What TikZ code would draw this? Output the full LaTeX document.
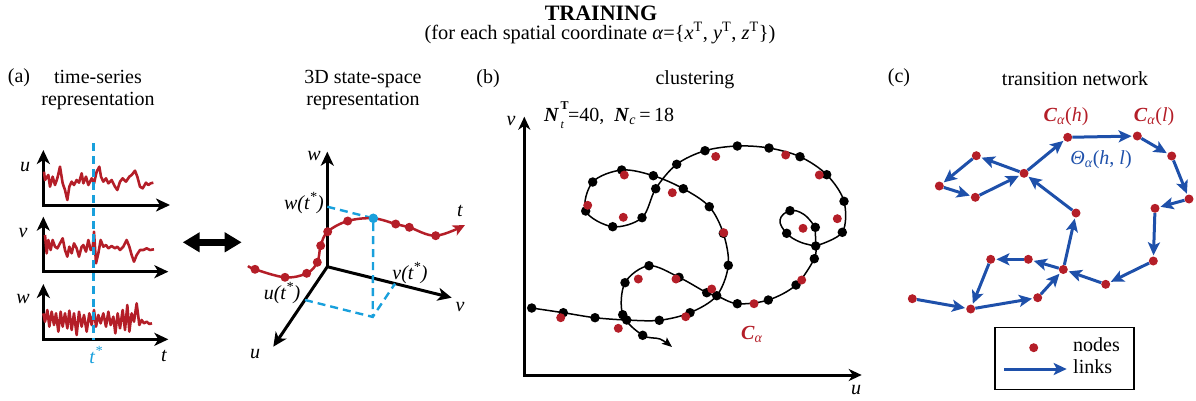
\documentclass[tikz,border=0pt]{standalone}
\usepackage{fontspec}
\setmainfont{Liberation Serif}
\usetikzlibrary{arrows.meta}
\definecolor{rred}{RGB}{180,30,40}
\definecolor{lblue}{RGB}{25,160,220}
\definecolor{nblue}{RGB}{30,80,170}
\tikzset{
 axisline/.style={line width=3pt, line join=miter},
 series/.style={rred, line width=2.6pt, line join=round},
 traj/.style={black, line width=1.5pt},
 bdot/.style={circle, fill=black, inner sep=0pt, minimum size=9.5pt},
 rdot/.style={circle, fill=rred, inner sep=0pt, minimum size=9pt},
 ndot/.style={circle, fill=rred, inner sep=0pt, minimum size=9pt},
 link/.style={nblue, line width=3pt, -{Stealth[length=13pt,width=12pt,inset=3pt]}, shorten >=1pt},
 lab/.style={font=\fontsize{20}{22}\selectfont, inner sep=0pt},
 ilab/.style={font=\fontsize{20}{22}\selectfont\itshape, inner sep=0pt},
 dashblue/.style={lblue, line width=2.4pt, dash pattern=on 8pt off 5pt},
}
\begin{document}
\begin{tikzpicture}[x=1pt,y=-1pt]
\useasboundingbox (0,0) rectangle (1196,400);
% ---------------- title
\node[lab, font=\fontsize{22}{24}\selectfont\bfseries] (title) at (601,13) {TRAINING};
\node[lab, font=\fontsize{20.4}{22}\selectfont] (subtitle) at (600,33) {(for each spatial coordinate \textit{α}=\{\textit{x}\textsuperscript{T}, \textit{y}\textsuperscript{T}, \textit{z}\textsuperscript{T}\})};
% ---------------- panel (a)
\node[lab] (alab) at (19,78) {(a)};
\node[lab, align=center] (atitle) at (98,90) {time-series\\representation};
\begin{scope}[shift={(30,140)}, scale=1/3]
 \draw[axisline, {Stealth[length=14pt,width=13pt,inset=4pt]}-{Stealth[length=14pt,width=13pt,inset=4pt]}] (40,30) -- (40,195) -- (420,195);
 \draw[axisline, {Stealth[length=14pt,width=13pt,inset=4pt]}-{Stealth[length=14pt,width=13pt,inset=4pt]}] (40,230) -- (40,395) -- (415,395);
 \draw[axisline, {Stealth[length=14pt,width=13pt,inset=4pt]}-{Stealth[length=14pt,width=13pt,inset=4pt]}] (40,432) -- (40,598) -- (415,598);
 \draw[series] (42,95) -- (45,120) -- (55,105) -- (60,140) -- (68,110) -- (75,135) -- (82,115) -- (90,80) -- (98,130) -- (105,150) -- (112,180) -- (118,140) -- (125,125) -- (132,135) -- (140,120) -- (147,128) -- (155,100) -- (160,130) -- (168,110) -- (175,135) -- (185,115) -- (192,130) -- (200,95) -- (208,80) -- (213,110) -- (220,125) -- (228,115) -- (235,130) -- (245,120) -- (255,140) -- (262,150) -- (270,125) -- (278,115) -- (288,125) -- (298,110) -- (305,105) -- (315,92) -- (322,110) -- (330,140) -- (338,145) -- (348,128) -- (355,135) -- (362,130) -- (370,128);
 \draw[series] (45,285) -- (50,340) -- (55,300) -- (62,330) -- (68,300) -- (75,320) -- (82,325) -- (90,310) -- (98,295) -- (105,330) -- (112,350) -- (118,320) -- (125,340) -- (132,310) -- (140,325) -- (147,350) -- (155,320) -- (160,315) -- (168,335) -- (175,300) -- (182,330) -- (188,325) -- (192,275) -- (198,370) -- (205,340) -- (212,300) -- (220,320) -- (228,315) -- (235,325) -- (245,318) -- (255,325) -- (262,320) -- (270,330) -- (280,320) -- (290,300) -- (298,320) -- (305,345) -- (312,365) -- (320,345) -- (330,330) -- (340,330) -- (350,325) -- (360,330) -- (372,328);
 \draw[series] (40,520) -- (45,545) -- (52,510) -- (58,560) -- (65,515) -- (72,555) -- (78,520) -- (85,575) -- (92,515) -- (98,560) -- (105,520) -- (112,565) -- (118,512) -- (125,570) -- (132,520) -- (140,585) -- (147,515) -- (155,560) -- (162,525) -- (170,575) -- (178,520) -- (185,555) -- (192,510) -- (198,560) -- (205,525) -- (212,550) -- (220,520) -- (228,560) -- (235,515) -- (242,555) -- (250,530) -- (256,580) -- (263,520) -- (270,565) -- (278,510) -- (285,570) -- (292,495) -- (298,575) -- (305,520) -- (312,545) -- (320,490) -- (328,555) -- (335,540) -- (342,550) -- (350,545) -- (358,552) -- (366,550);
\end{scope}
\coordinate (tstop) at (93.3,143.3);
\coordinate (tsbot) at (93.3,340);
\draw[dashblue] (tstop) -- (tsbot);
\node[ilab] (ulab) at (25,167) {u};
\node[ilab] (vlab) at (23,233) {v};
\node[ilab] (wlab) at (23,299) {w};
\node[ilab, lblue] (tstar) at (96,355) {t\textsuperscript{*}};
\node[ilab] (tlab) at (164,356) {t};
% double arrow
\coordinate (dl) at (182.7,242.3);
\coordinate (dr) at (241.7,242.3);
\draw[line width=7pt, {Triangle[length=17pt,width=19pt]}-{Triangle[length=17pt,width=19pt]}] (dl) -- (dr);
% ---------------- 3D
\node[lab, align=center] (sstitle) at (363,90) {3D state-space\\representation};
\coordinate (O) at (327.3,266.7);
\coordinate (Wt) at (327.3,151.7);
\coordinate (Vt) at (451.7,297.7);
\coordinate (Ut) at (273.3,346.7);
\draw[axisline, -{Stealth[length=14pt,width=13pt,inset=4pt]}] (O) -- (Wt);
\draw[axisline, -{Stealth[length=14pt,width=13pt,inset=4pt]}] (O) -- (Vt);
\draw[axisline, -{Stealth[length=14pt,width=13pt,inset=4pt]}] (O) -- (Ut);
\coordinate (wst) at (327.3,206.7);
\coordinate (ust) at (305,300);
\coordinate (vst) at (395,283.6);
\coordinate (bot) at (372.7,316.9);
\node[circle, fill=lblue, inner sep=0pt, minimum size=9pt] (P) at (373.3,218.3) {};
\draw[dashblue] (wst) -- (P) -- (bot);
\draw[dashblue] (ust) -- (bot) -- (vst);
\draw[rred, line width=2.5pt, -{Stealth[length=12pt,width=11pt,inset=3pt]}] plot[smooth, tension=0.6] coordinates {(248,266) (255,269.3) (285,277.3) (306.7,273.3) (317.3,262.3) (320.7,245.7) (327.7,231.7) (347.7,221) (373.3,218.3) (395.7,224) (409.3,227.3) (435.7,235.7) (465,225)};
\foreach \p [count=\i] in {(255,269.3),(285,277.3),(306.7,273.3),(317.3,262.3),(320.7,245.7),(327.7,231.7),(347.7,221),(395.7,224),(409.3,227.3),(435.7,235.7)}
  \node[rdot] (s\i) at \p {};
\node[circle, fill=lblue, inner sep=0pt, minimum size=9.5pt] (P2) at (373.3,218.3) {};
\node[ilab] (w3) at (314,156) {w};
\node[ilab] (v3) at (460,307) {v};
\node[ilab] (u3) at (255,354) {u};
\node[ilab] (t3) at (460,211) {t};
\node[ilab] (wts) at (304,203) {w(t\textsuperscript{*})};
\node[ilab] (uts) at (282,293) {u(t\textsuperscript{*})};
\node[ilab] (vts) at (410,273) {v(t\textsuperscript{*})};
% ---------------- panel (b)
\node[lab] (blab) at (488,79) {(b)};
\node[lab] (btitle) at (695,80) {clustering};
\coordinate (BO) at (524.3,375);
\coordinate (BV) at (524.3,116.7);
\coordinate (BU) at (861.7,375);
\draw[axisline, {Stealth[length=13pt,width=12pt,inset=4pt]}-{Stealth[length=13pt,width=12pt,inset=4pt]}] (BV) -- (BO) -- (BU);
\node[ilab] (bvl) at (511,121) {v};
\node[ilab] (bul) at (856,390) {u};
\node[lab, anchor=west] (nlab) at (544,115) {\textbf{\textit{N}}\kern1.5pt\rlap{\raisebox{0.62em}{\fontsize{12}{12}\selectfont\bfseries T}}\raisebox{-0.32em}{\fontsize{12}{12}\selectfont\itshape t}\kern4pt=40,\enspace\textbf{\textit{N}}\textsubscript{\textit{c}}\,=\,18};
\draw[traj] plot[smooth, tension=0.55] coordinates {(531.7,308) (563.3,312.7) (595,317.7) (626.7,320) (659.3,320.3) (690,312.7) (716.7,295.7) (728.3,265.3) (723.3,233.3) (709.3,206.7) (683.3,188.7) (653.3,175.7) (621.7,170) (592.7,182) (585.7,211) (612.7,226.7) (642,217.7) (655.7,188.7) (676.7,164.3) (705,150.7) (737.3,146) (769,148) (800,156.7) (826.7,174.7) (844,201.3) (842.3,232.3) (815.7,246)};
\draw[traj] plot[smooth, tension=0.7] coordinates {(815.3,227.3) (804,214.5) (790,210.7) (780,220) (786.7,233.3) (800,242) (815.7,246)};
\draw[traj] (815.7,246) -- (815.3,227.3);
\draw[traj, -{Stealth[length=10pt,width=8pt,inset=2pt]}] plot[smooth, tension=0.55] coordinates {(815.7,246) (814.3,258.7) (796,285) (768.3,300) (737.3,303.7) (716.7,295.7) (706.7,292.7) (679,277.3) (649,265.7) (625,282.7) (622.7,314.7) (642.7,335.3) (660,339) (672,347)};
\foreach \p [count=\i] in {(531.7,308),(563.3,312.7),(595,317.7),(622.7,314.7),(626.7,320),(659.3,320.3),(690,312.7),(716.7,295.7),(728.3,265.3),(723.3,233.3),(709.3,206.7),(683.3,188.7),(653.3,175.7),(621.7,170),(592.7,182),(585.7,211),(612.7,226.7),(642,217.7),(655.7,188.7),(676.7,164.3),(705,150.7),(737.3,146),(769,148),(800,156.7),(826.7,174.7),(844,201.3),(842.3,232.3),(815.7,246),(815.3,227.3),(790,210.7),(786.7,233.3),(814.3,258.7),(796,285),(768.3,300),(737.3,303.7),(706.7,292.7),(679,277.3),(649,265.7),(625,282.7),(642.7,335.3)}
  \node[bdot] (c\i) at \p {};
\foreach \p [count=\i] in {(624.3,175),(587.7,205.3),(623.3,217.3),(672.3,192.7),(715.7,156.5),(785.7,155),(819.3,175),(837.3,218.7),(803,228.3),(723.7,232.7),(560.7,317.7),(618.3,328.3),(638.3,279),(676,279),(685.7,316.7),(711.7,289),(754,303.7),(801.7,280)}
  \node[rdot] (r\i) at \p {};
\node[lab, rred] (calab) at (752,334) {\textbf{\textit{C}}\textsubscript{\textit{α}}};
% ---------------- panel (c)
\node[lab] (clab) at (899,78) {(c)};
\node[lab] (ctitle) at (1075,79) {transition network};
\node[ndot] (n1) at (1067.7,137.3) {};
\node[ndot] (n2) at (1137.3,136) {};
\node[ndot] (n3) at (1171.7,156) {};
\node[ndot] (n4) at (1189,199) {};
\node[ndot] (n5) at (1155,208.3) {};
\node[ndot] (n6) at (1153.3,261) {};
\node[ndot] (n7) at (1105.7,284.3) {};
\node[ndot] (n8) at (1063.3,269.5) {};
\node[ndot] (n9) at (1076,213) {};
\node[ndot] (n10) at (1024,173.3) {};
\node[ndot] (n11) at (976.3,155.7) {};
\node[ndot] (n12) at (939.3,186) {};
\node[ndot] (n13) at (975.3,197.3) {};
\node[ndot] (n14) at (1028.3,259.3) {};
\node[ndot] (n15) at (990.7,259.3) {};
\node[ndot] (n16) at (912.3,298.7) {};
\node[ndot] (n17) at (970.7,309) {};
\node[ndot] (n18) at (1037.7,297.7) {};
\foreach \a/\b in {n16/n17, n17/n18, n18/n8, n8/n9, n9/n10, n10/n1, n1/n2, n2/n3, n3/n4, n4/n5, n5/n6, n6/n7, n7/n8, n8/n14, n14/n15, n15/n17, n10/n11, n11/n12, n12/n13, n13/n10}
  \draw[link] (\a) -- (\b);
\node[lab, rred] (chlab) at (1066,117) {\textbf{\textit{C}}\textsubscript{\textit{α}}(\textit{h})};
\node[lab, rred] (cllab) at (1154,117) {\textbf{\textit{C}}\textsubscript{\textit{α}}(\textit{l})};
\node[lab, nblue] (thlab) at (1101,160) {\textit{Θ}\textsubscript{\textit{α}}(\textit{h}, \textit{l})};
% legend
\node[draw, line width=1.3pt, minimum width=139pt, minimum height=62pt, inner sep=0pt] (legend) at (1064.5,358.8) {};
\node[ndot] (legdot) at (1033.7,347.7) {};
\coordinate (la) at (1004,369);
\coordinate (lb) at (1066.7,369);
\draw[link, shorten >=0pt] (la) -- (lb);
\node[lab, anchor=west] (legn) at (1073,345) {nodes};
\node[lab, anchor=west] (legl) at (1073,367) {links};
\end{tikzpicture}
\end{document}
